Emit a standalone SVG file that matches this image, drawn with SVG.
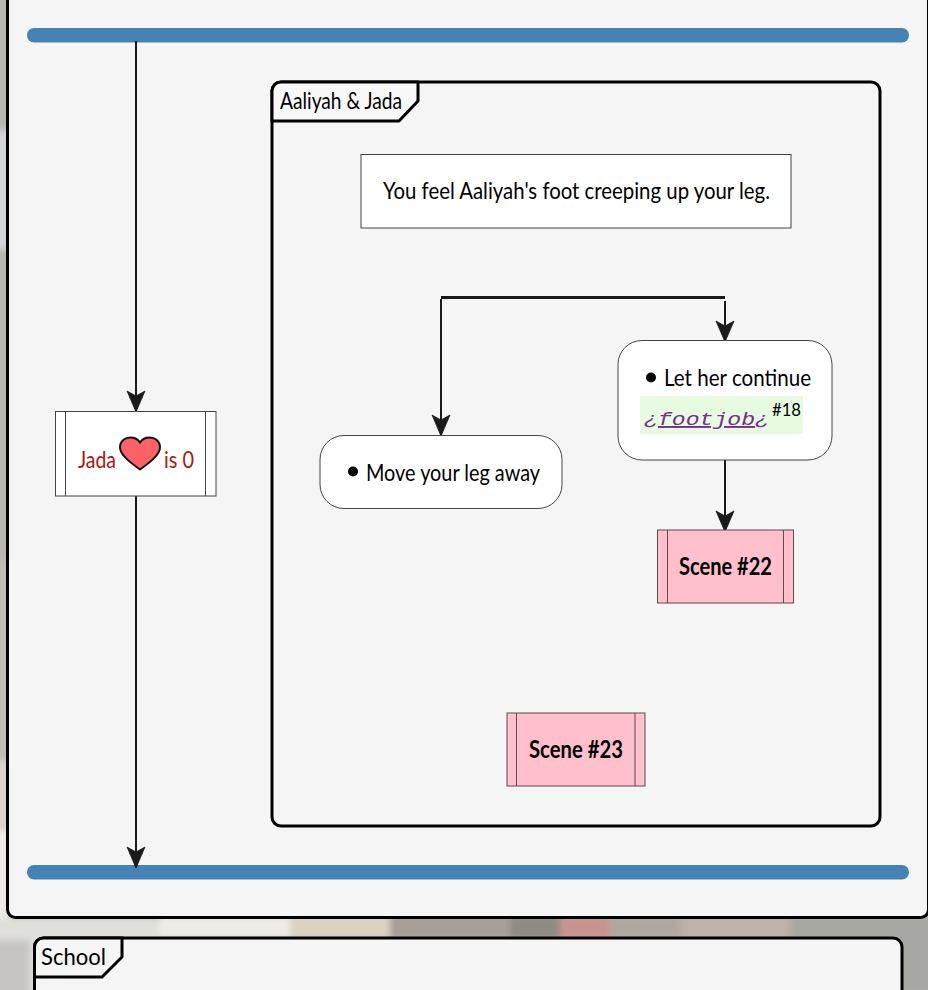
<svg xmlns="http://www.w3.org/2000/svg" width="928" height="990" viewBox="0 0 928 990">
<defs>
<style>
.panel{fill:#f5f5f5;stroke:#000;stroke-width:3}
.tab{fill:#fff;stroke:#000;stroke-width:3;stroke-linejoin:round}
.bar{fill:#4682b4}
.box{fill:#fff;stroke:#444;stroke-width:1}
.pink{fill:#ffc0cb;stroke:#5f4a4f;stroke-width:1}
.edge{fill:none;stroke:#1a1a1a;stroke-width:2}
.t{font-family:"Lato","Open Sans",sans-serif;font-size:24px;fill:#000}
.b{font-family:"Lato","Open Sans",sans-serif;font-size:24px;font-weight:700;fill:#000}
.m{font-family:"Liberation Mono","DejaVu Sans Mono",monospace;font-size:19px;font-style:italic;fill:#7a2a90}
</style>
<marker id="arrow" viewBox="0 0 23 20" refX="22" refY="10" markerWidth="23" markerHeight="20" markerUnits="userSpaceOnUse" orient="auto">
<path d="M1,1 L22,10 L1,19 L6,10 Z" fill="#1a1a1a" stroke="#1a1a1a" stroke-width="0.800" stroke-linejoin="round"/>
</marker>
<filter id="soft" x="-5%" y="-20%" width="110%" height="140%"><feGaussianBlur stdDeviation="3"/></filter>
</defs>
<g id="backdrop">
<rect width="928" height="990" fill="#b8b6b0"/>
<g filter="url(#soft)">
<rect x="-10" y="130" width="20" height="120" fill="#d2d4da"/>
<rect x="-10" y="560" width="20" height="270" fill="#c0bcb3"/>
<rect x="-10" y="760" width="20" height="70" fill="#dcd2cc"/>
<rect x="-10" y="830" width="20" height="90" fill="#efece7"/>
<rect x="-10" y="918" width="170" height="80" fill="#e0e0db"/>
<rect x="-10" y="940" width="40" height="60" fill="#c6c5c0"/>
<rect x="160" y="915" width="130" height="24" fill="#eeece6"/>
<rect x="290" y="915" width="100" height="24" fill="#ddd2c2"/>
<rect x="390" y="915" width="120" height="24" fill="#a89f9a"/>
<rect x="510" y="915" width="50" height="24" fill="#8f8a84"/>
<rect x="560" y="915" width="50" height="24" fill="#c8948e"/>
<rect x="610" y="915" width="70" height="24" fill="#b0a8a0"/>
<rect x="680" y="915" width="110" height="24" fill="#bdb0a8"/>
<rect x="790" y="915" width="150" height="80" fill="#a8a8a2"/>
</g>
</g>
<g id="panel-outer">
<rect class="panel" x="7.500" y="-20" width="921" height="937.500" rx="8"/>
</g>
<g id="panel-school">
<path class="panel" d="M34.500,1000 V947 a9,9 0 0 1 9,-9 H893 a9,9 0 0 1 9,9 V1000 Z"/>
<path class="panel" d="M34.500,977 V947 a9,9 0 0 1 9,-9 H122 V957 L102,977 Z"/>
<text class="t" x="41" y="965" textLength="65" lengthAdjust="spacingAndGlyphs">School</text>
</g>
<g id="bar-top"><rect class="bar" x="27" y="28" width="882" height="14.500" rx="7"/></g>
<g id="bar-bottom"><rect class="bar" x="27" y="865" width="882" height="14.500" rx="7"/></g>
<g id="partition">
<path d="M272,91 a9,9 0 0 1 9,-9 H871 a9,9 0 0 1 9,9 V817 a9,9 0 0 1 -9,9 H281 a9,9 0 0 1 -9,-9 Z" fill="none" stroke="#000" stroke-width="3"/>
<path class="tab" style="fill:#f8f8f8" d="M272,121 V91 a9,9 0 0 1 9,-9 H418 V101 L399,121 Z"/>
<text class="t" x="280" y="109" textLength="122" lengthAdjust="spacingAndGlyphs">Aaliyah &amp; Jada</text>
</g>
<g id="connectors">
<path class="edge" d="M136,41 V412" marker-end="url(#arrow)"/>
<path class="edge" d="M136,496 V868" marker-end="url(#arrow)"/>
<path d="M441,297.500 H725" fill="none" stroke="#1a1a1a" stroke-width="3"/>
<path class="edge" d="M441,299 V436" marker-end="url(#arrow)"/>
<path class="edge" d="M725,301 V342" marker-end="url(#arrow)"/>
<path class="edge" d="M725,460 V532" marker-end="url(#arrow)"/>
</g>
<g id="node-jada">
<rect class="box" x="55.500" y="411.500" width="160.500" height="84.500"/>
<path class="box" d="M65.500,411.500 V496 M205.500,411.500 V496"/>
<text class="t" x="78" y="468" style="fill:#a8170f" textLength="38" lengthAdjust="spacingAndGlyphs">Jada</text>
<path d="M140,469.500 C131,463 120,455 120,447.500 C120,441 125,437.500 130.500,437.500 C135,437.500 138,439.500 140,442.500 C142,439.500 145,437.500 149.500,437.500 C155,437.500 160,441 160,447.500 C160,455 149,463 140,469.500 Z" fill="#ff6266" stroke="#111" stroke-width="2"/>
<text class="t" x="164" y="468" style="fill:#a8170f" textLength="30" lengthAdjust="spacingAndGlyphs">is 0</text>
</g>
<g id="node-intro">
<rect class="box" x="361" y="154.500" width="430" height="73.500"/>
<text class="t" x="383" y="199" textLength="387" lengthAdjust="spacingAndGlyphs">You feel Aaliyah's foot creeping up your leg.</text>
</g>
<g id="node-move">
<rect class="box" x="320" y="435.500" width="242" height="73" rx="24"/>
<circle cx="353" cy="471.500" r="5" fill="#000"/>
<text class="t" x="366" y="481" textLength="174" lengthAdjust="spacingAndGlyphs">Move your leg away</text>
</g>
<g id="node-continue">
<rect class="box" x="618" y="340.500" width="214" height="119.500" rx="24"/>
<circle cx="651" cy="377.500" r="5" fill="#000"/>
<text class="t" x="664" y="386" textLength="147" lengthAdjust="spacingAndGlyphs">Let her continue</text>
<rect x="640" y="396" width="163" height="38" fill="#e6fbdf"/>
<text class="m" x="644" y="425" textLength="125" lengthAdjust="spacingAndGlyphs">¿<tspan text-decoration="underline">footjob</tspan>¿</text>
<text class="t" x="772" y="416" style="font-size:18px" textLength="29" lengthAdjust="spacingAndGlyphs">#18</text>
</g>
<g id="node-scene22">
<rect class="pink" x="657.500" y="530" width="136" height="73"/>
<path class="pink" d="M667.500,530 V603 M783.500,530 V603"/>
<text class="b" x="679" y="575" textLength="93" lengthAdjust="spacingAndGlyphs">Scene #22</text>
</g>
<g id="node-scene23">
<rect class="pink" x="507" y="713" width="138" height="73"/>
<path class="pink" d="M516.500,713 V786 M635,713 V786"/>
<text class="b" x="529" y="758" textLength="94" lengthAdjust="spacingAndGlyphs">Scene #23</text>
</g>
</svg>
